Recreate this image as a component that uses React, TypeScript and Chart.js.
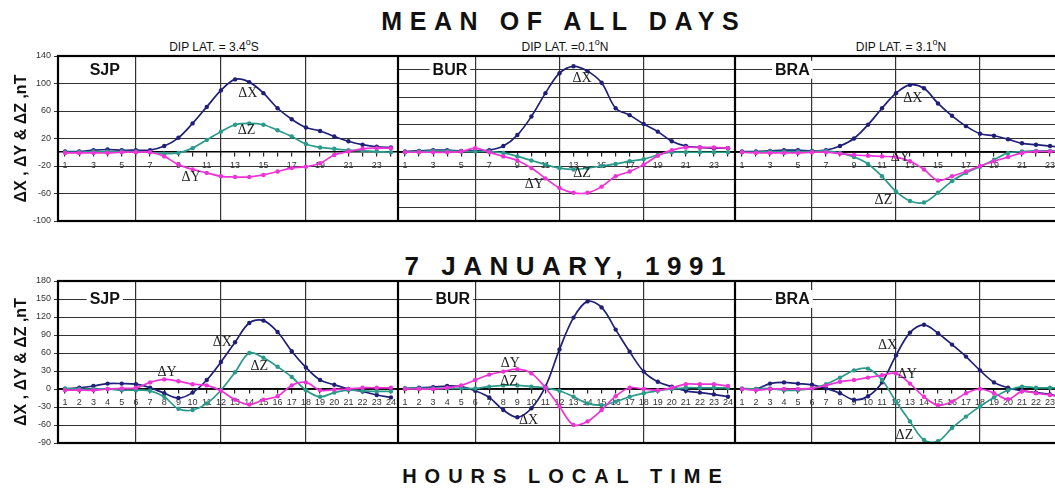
import React, { useEffect, useRef } from 'react';
import { Chart, registerables } from 'chart.js';

Chart.register(...registerables);

// ---------- data ----------
const HOURS = ['1', '2', '3', '4', '5', '6', '7', '8', '9', '10', '11', '12', '13', '14', '15', '16', '17', '18', '19', '20', '21', '22', '23', '24'];

// Mean of all days
const SJP_MEAN_X = [1, 1, 3, 4, 3, 3, 3, 9, 21, 42, 66, 90, 106, 102, 86, 64, 48, 36, 31, 23, 16, 11, 8, 7];
const SJP_MEAN_Y = [-1, -1, -1, -1, 0, 0, 0, -6, -18, -25, -30, -35, -36, -36, -33, -28, -23, -21, -16, -4, 1, 5, 6, 6];
const SJP_MEAN_Z = [0, 0, 1, 1, 1, 1, 0, -2, -1, 6, 18, 30, 40, 42, 40, 32, 23, 12, 7, 5, 3, 2, 1, 0];

const BUR_MEAN_X = [1, 2, 3, 3, 2, 2, 3, 9, 25, 52, 86, 115, 125, 118, 101, 64, 54, 41, 30, 16, 9, 7, 6, 6];
const BUR_MEAN_Y = [0, 0, 0, 0, 1, 6, 0, -6, -12, -23, -38, -52, -59, -59, -50, -35, -28, -18, -5, 3, 7, 7, 7, 6];
const BUR_MEAN_Z = [0, 1, 2, 2, 1, 1, 1, -1, -6, -12, -18, -23, -25, -23, -20, -17, -13, -10, -4, 0, 0, 0, 0, 0];

const BRA_MEAN_X = [1, 1, 2, 3, 3, 2, 3, 9, 20, 40, 64, 86, 98, 93, 71, 53, 38, 27, 24, 19, 13, 11, 9, 7];
const BRA_MEAN_Y = [0, -1, -1, -1, -1, 0, 0, -2, -4, -5, -6, -7, -13, -25, -41, -35, -28, -20, -13, -7, -1, 1, 1, 1];
const BRA_MEAN_Z = [0, 0, 1, 1, 1, 1, 2, -1, -7, -17, -35, -57, -71, -73, -59, -42, -30, -21, -11, -1, 1, 2, 2, 2];

// 7 January 1991
const SJP_JAN_X = [0, 2, 5, 9, 9, 8, 2, -7, -15, -6, 15, 45, 78, 110, 114, 95, 63, 36, 15, 7, 0, -4, -10, -14];
const SJP_JAN_Y = [-2, -2, -2, 0, 1, 2, 11, 16, 13, 8, 6, -3, -18, -26, -18, -12, 6, 11, -2, -1, 0, 2, 2, 2];
const SJP_JAN_Z = [1, 0, 0, 0, -2, -2, -3, -13, -33, -35, -24, -2, 28, 60, 52, 37, 20, -2, -13, -6, -2, -3, -4, -4];

const BUR_JAN_X = [1, 2, 3, 5, 4, -3, -14, -35, -47, -32, 4, 66, 119, 146, 136, 99, 62, 29, 12, 4, -3, -6, -9, -13];
const BUR_JAN_Y = [0, 0, 0, 2, 6, 15, 24, 29, 33, 26, 2, -29, -60, -54, -35, -12, 2, 0, -2, 2, 8, 8, 8, 5];
const BUR_JAN_Z = [1, 1, 1, 1, 1, 1, 4, 6, 6, 4, 2, -3, -13, -24, -27, -21, -13, -7, -3, 0, 2, 2, 2, 2];

const BRA_JAN_X = [0, 0, 9, 11, 9, 7, 1, -7, -18, -12, 11, 56, 94, 107, 93, 74, 54, 31, 11, 2, -3, -6, -9, -15];
const BRA_JAN_Y = [0, -2, 0, 0, 0, 1, 6, 12, 15, 19, 23, 26, 9, -13, -27, -21, -7, 0, -7, -17, -4, -7, -10, -13];
const BRA_JAN_Z = [1, 0, 1, -2, -2, 1, 8, 19, 31, 34, 15, -21, -54, -85, -87, -65, -46, -29, -14, -2, 4, 2, 2, 2];

const Y_TITLE = 'ΔX , ΔY & ΔZ ,nT';

// ---------- styling / layout ----------
const COLOR_X = '#1f1f7a';
const COLOR_Y = '#ee33d6';
const COLOR_Z = '#2a9a8a';
const SANS = '"Liberation Sans", Arial, sans-serif';
const SERIF = '"Liberation Serif", "Times New Roman", serif';

const PAD = 8;
const ROWS = [
  { top: 56, bottom: 221, min: -100, max: 140, step: 20, oddOnly: true },
  { top: 281, bottom: 443, min: -90, max: 180, step: 30, oddOnly: false },
];
const COLS = [
  { left: 0, plotLeft: 58, right: 398 },
  { left: 398, plotLeft: 398, right: 735 },
  { left: 735, plotLeft: 735, right: 1071 },
];

type Note = { t: string; h: number; v: number };
type PanelCfg = {
  row: number; col: number; station: string; sh: number;
  x: number[]; y: number[]; z: number[]; notes: Note[];
};

const PANELS: PanelCfg[] = [
  { row: 0, col: 0, station: 'SJP', sh: 3.8, x: SJP_MEAN_X, y: SJP_MEAN_Y, z: SJP_MEAN_Z,
    notes: [{ t: 'ΔX', h: 13.9, v: 86 }, { t: 'ΔZ', h: 13.8, v: 32 }, { t: 'ΔY', h: 9.9, v: -36 }] },
  { row: 0, col: 1, station: 'BUR', sh: 4.2, x: BUR_MEAN_X, y: BUR_MEAN_Y, z: BUR_MEAN_Z,
    notes: [{ t: 'ΔX', h: 13.6, v: 108 }, { t: 'ΔZ', h: 13.6, v: -30 }, { t: 'ΔY', h: 10.2, v: -47 }] },
  { row: 0, col: 2, station: 'BRA', sh: 4.6, x: BRA_MEAN_X, y: BRA_MEAN_Y, z: BRA_MEAN_Z,
    notes: [{ t: 'ΔX', h: 13.2, v: 79 }, { t: 'ΔY', h: 12.3, v: -7 }, { t: 'ΔZ', h: 11.1, v: -70 }] },
  { row: 1, col: 0, station: 'SJP', sh: 3.8, x: SJP_JAN_X, y: SJP_JAN_Y, z: SJP_JAN_Z,
    notes: [{ t: 'ΔX', h: 12.1, v: 77 }, { t: 'ΔY', h: 8.2, v: 27 }, { t: 'ΔZ', h: 14.7, v: 37 }] },
  { row: 1, col: 1, station: 'BUR', sh: 4.4, x: BUR_JAN_X, y: BUR_JAN_Y, z: BUR_JAN_Z,
    notes: [{ t: 'ΔY', h: 8.5, v: 43 }, { t: 'ΔZ', h: 8.4, v: 12 }, { t: 'ΔX', h: 9.8, v: -53 }] },
  { row: 1, col: 2, station: 'BRA', sh: 4.6, x: BRA_JAN_X, y: BRA_JAN_Y, z: BRA_JAN_Z,
    notes: [{ t: 'ΔX', h: 11.4, v: 72 }, { t: 'ΔY', h: 12.8, v: 25 }, { t: 'ΔZ', h: 12.6, v: -77 }] },
];

function ds(label: string, data: number[], color: string) {
  return {
    label, data,
    borderColor: color, backgroundColor: color,
    borderWidth: 1.7, pointRadius: 2.2, pointBorderWidth: 0,
    pointBackgroundColor: color, tension: 0.35, fill: false,
  };
}

const framePlugin = {
  id: 'frame',
  afterDraw(chart: any) {
    const { ctx, chartArea: a } = chart;
    ctx.save();
    ctx.strokeStyle = '#000';
    ctx.lineWidth = 2.2;
    ctx.strokeRect(a.left, a.top, a.right - a.left, a.bottom - a.top);
    ctx.restore();
  },
};

function notesPlugin(cfg: PanelCfg, row: any) {
  return {
    id: 'notes',
    afterDatasetsDraw(chart: any) {
      const { ctx } = chart;
      const xs = chart.scales.x, ys = chart.scales.y;
      ctx.save();
      // station label on a gridline
      ctx.font = `bold 16px ${SANS}`;
      ctx.textAlign = 'center';
      ctx.textBaseline = 'middle';
      const sx = xs.getPixelForValue(cfg.sh - 1);
      const sy = ys.getPixelForValue(row.max - row.step);
      const w = ctx.measureText(cfg.station).width;
      ctx.fillStyle = '#fff';
      ctx.fillRect(sx - w / 2 - 3, sy - 9, w + 6, 18);
      ctx.fillStyle = '#111';
      ctx.fillText(cfg.station, sx, sy + 1);
      // series notes
      ctx.font = `14px ${SERIF}`;
      ctx.fillStyle = '#222';
      cfg.notes.forEach((n) => {
        ctx.fillText(n.t, xs.getPixelForValue(n.h - 1), ys.getPixelForValue(n.v));
      });
      ctx.restore();
    },
  };
}

function Panel({ cfg }: { cfg: PanelCfg }) {
  const ref = useRef<HTMLCanvasElement>(null);
  const row = ROWS[cfg.row];
  const col = COLS[cfg.col];
  const width = col.right - col.left;
  const height = row.bottom - row.top + PAD * 2;
  const isLeft = cfg.col === 0;

  useEffect(() => {
    const chart = new Chart(ref.current as HTMLCanvasElement, {
      type: 'line',
      data: {
        labels: HOURS,
        datasets: [ds('ΔY', cfg.y, COLOR_Y), ds('ΔZ', cfg.z, COLOR_Z), ds('ΔX', cfg.x, COLOR_X)],
      },
      options: {
        animation: false,
        responsive: false,
        maintainAspectRatio: false,
        layout: { autoPadding: false, padding: { top: PAD, bottom: PAD, left: 0, right: 0 } },
        plugins: { legend: { display: false }, tooltip: { enabled: false }, title: { display: false } },
        scales: {
          x: {
            type: 'category',
            offset: true,
            position: { y: 0 } as any,
            afterFit: (s: any) => { s.paddingLeft = 0; s.paddingRight = 0; },
            grid: {
              offset: false,
              color: (c: any) => ([5, 11, 17].includes(c.index) ? '#333' : 'rgba(0,0,0,0)'),
              lineWidth: 1.2,
              tickColor: '#222',
              tickLength: 4,
            },
            border: { color: '#000', width: 1.5 },
            ticks: {
              autoSkip: false,
              maxRotation: 0,
              padding: 4,
              color: '#333',
              font: { family: SANS, size: 9 },
              callback: (_v: any, i: number) => (row.oddOnly && i % 2 === 1 ? '' : HOURS[i]),
            },
          },
          y: {
            min: row.min,
            max: row.max,
            afterFit: (s: any) => { s.width = col.plotLeft - col.left; s.paddingTop = 0; s.paddingBottom = 0; },
            grid: { color: '#333', lineWidth: 1, tickColor: '#333', tickLength: 4, drawTicks: isLeft },
            border: { display: false },
            ticks: {
              display: isLeft,
              stepSize: row.step,
              padding: 3,
              color: '#333',
              font: { family: SANS, size: 9 },
            },
            title: {
              display: isLeft,
              text: Y_TITLE,
              color: '#111',
              font: { family: SANS, size: 16, weight: 'bold' },
              padding: { top: 12, bottom: 0 },
            },
          },
        },
      },
      plugins: [framePlugin, notesPlugin(cfg, row)],
    } as any);
    return () => chart.destroy();
  }, []);

  return (
    <canvas
      ref={ref}
      width={width}
      height={height}
      style={{ position: 'absolute', left: col.left, top: row.top - PAD, width, height }}
    />
  );
}

const titleStyle = (center: number, top: number, size: number, spacing: number): React.CSSProperties => ({
  position: 'absolute', left: center + spacing / 2 - 300, top, width: 600, textAlign: 'center',
  font: `bold ${size}px ${SANS}`, lineHeight: 1, letterSpacing: spacing, color: '#111', whiteSpace: 'nowrap',
});

const dipStyle = (center: number): React.CSSProperties => ({
  position: 'absolute', left: center - 100, top: 41, width: 200, textAlign: 'center',
  font: `12px ${SANS}`, lineHeight: 1, color: '#111', whiteSpace: 'nowrap',
});

const DIP = [
  { center: 214, lat: '3.4', pre: ' = ', hemi: 'S' },
  { center: 565, lat: '0.1', pre: ' =', hemi: 'N' },
  { center: 901, lat: '3.1', pre: ' = ', hemi: 'N' },
];

export default function App() {
  return (
    <div style={{ position: 'fixed', left: 0, top: 0, width: 1055, height: 488, overflow: 'hidden', background: '#fff' }}>
      <div style={titleStyle(560, 9, 25, 7.6)}>MEAN OF ALL DAYS</div>
      {DIP.map((d) => (
        <div key={d.center} style={dipStyle(d.center)}>
          DIP LAT.{d.pre}{d.lat}
          <sup style={{ fontSize: 9, verticalAlign: 'top', position: 'relative', top: -3 }}>o</sup>
          {d.hemi}
        </div>
      ))}
      <div style={titleStyle(565, 253, 26, 7.5)}>7 JANUARY, 1991</div>
      <div style={titleStyle(562, 466, 20, 8)}>HOURS LOCAL TIME</div>
      {PANELS.map((p) => (
        <Panel key={`${p.row}-${p.col}`} cfg={p} />
      ))}
    </div>
  );
}
